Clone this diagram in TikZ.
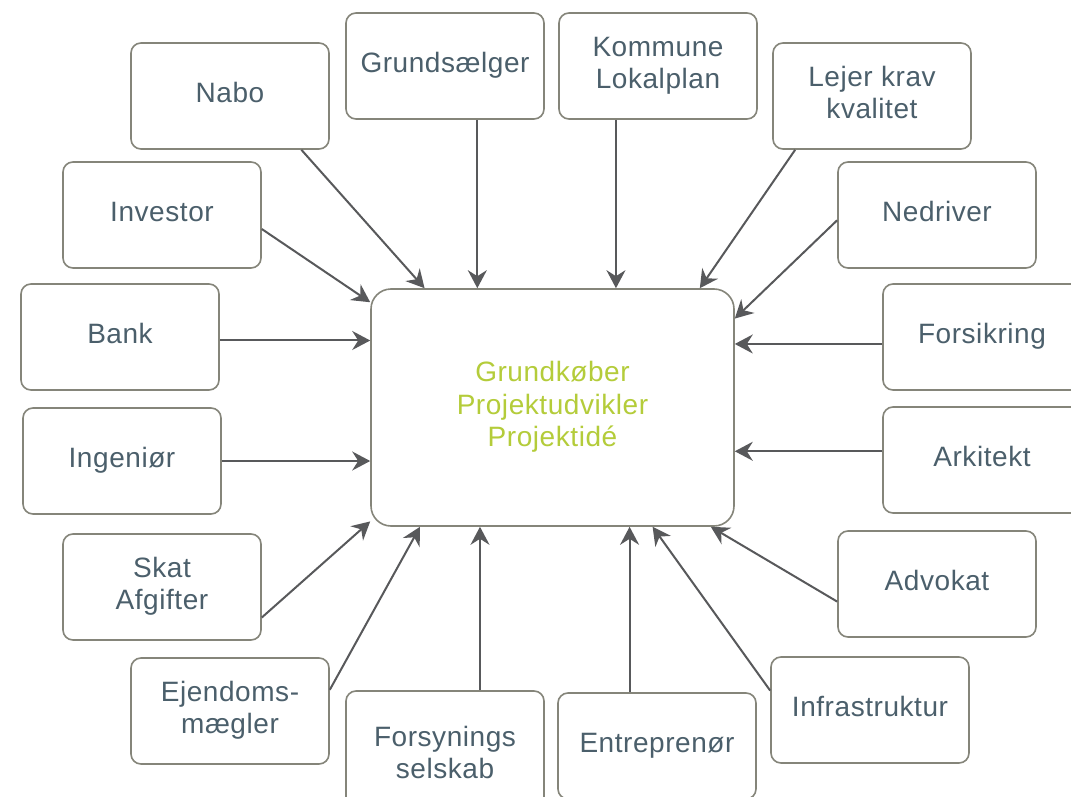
\documentclass[tikz,border=0pt]{standalone}
\usepackage{fontspec}
\setmainfont{Liberation Sans}[LetterSpace=2]
\usetikzlibrary{arrows.meta}
\definecolor{kant}{HTML}{85857A}
\definecolor{tekst}{HTML}{4B5F6B}
\definecolor{gron}{HTML}{B4CC3A}
\definecolor{pil}{HTML}{58595B}
\tikzset{
  ak/.style={rectangle, rounded corners=10pt, minimum width=198pt, minimum height=106pt, text centered, align=center, text depth=7pt, draw=kant, line width=1.6pt, text=tekst, font=\fontsize{28}{32}\selectfont},
  pk/.style={rectangle, rounded corners=20pt, minimum width=363pt, minimum height=237pt, text centered, align=center, text depth=7pt, draw=kant, line width=1.6pt, text=gron, font=\fontsize{28}{32.5}\selectfont},
  ar/.style={-{Stealth[length=18pt,width=19pt,inset=6pt]}, draw=pil, line width=2pt}
}
\begin{document}
\begin{tikzpicture}[x=1pt, y=-1pt]
	\path[fill=white] (0,0) rectangle (1071,797);
	\useasboundingbox (0,0) rectangle (1071,797);
	% midten
	\node[pk] (centre) at (552.5,407.5) {Grundkøber\\Projektudvikler\\Projektidé};
	% aktører
	\node[ak] (nabo) at (230,96) {Nabo};
	\node[ak] (grund) at (445,66) {Grundsælger};
	\node[ak] (kommune) at (658,66) {Kommune\\Lokalplan};
	\node[ak] (lejer) at (872,96) {Lejer krav\\kvalitet};
	\node[ak] (investor) at (162,215) {Investor};
	\node[ak] (nedriver) at (937,215) {Nedriver};
	\node[ak] (bank) at (120,337) {Bank};
	\node[ak] (forsikring) at (982,337) {Forsikring};
	\node[ak] (ingenioer) at (122,461) {Ingeniør};
	\node[ak] (arkitekt) at (982,460) {Arkitekt};
	\node[ak] (skat) at (162,587) {Skat\\Afgifter};
	\node[ak] (advokat) at (937,584) {Advokat};
	\node[ak] (ejendom) at (230,711) {Ejendoms-\\mægler};
	\node[ak] (infra) at (870,710) {Infrastruktur};
	\node[ak, minimum height=130pt] (forsyning) at (445,756) {Forsynings\\selskab};
	\node[ak] (entrepr) at (657,746) {Entreprenør};

	\draw[ar] (nabo.-37) -- (centre.137.5);
	\draw[ar] (grund.-59) -- (grund.-59 |- centre.north);
	\draw[ar] (kommune.-128.5) -- (kommune.-128.5 |- centre.north);
	\draw[ar] (lejer.-145) -- (centre.39.2);
	\draw[ar] (investor.-8) -- (centre.150);
	\draw[ar] (nedriver.183) -- (centre.26);
	\draw[ar] (bank.-2.3) -- (bank.-2.3 -| centre.west);
	\draw[ar] (forsikring.184) -- (forsikring.184 -| centre.east);
	\draw[ar] (ingenioer.east) -- (ingenioer.east -| centre.west);
	\draw[ar] (arkitekt.175.4) -- (arkitekt.175.4 -| centre.east);
	\draw[ar] (skat.-17) -- (centre.-148);
	\draw[ar] (advokat.190) -- (centre.-37.5);
	\draw[ar] (ejendom.12) -- (centre.-138);
	\draw[ar] (infra.169) -- (centre.-50);
	\draw[ar] (forsyning.62.4) -- (forsyning.62.4 |- centre.south);
	\draw[ar] (entrepr.117) -- (entrepr.117 |- centre.south);
\end{tikzpicture}
\end{document}
